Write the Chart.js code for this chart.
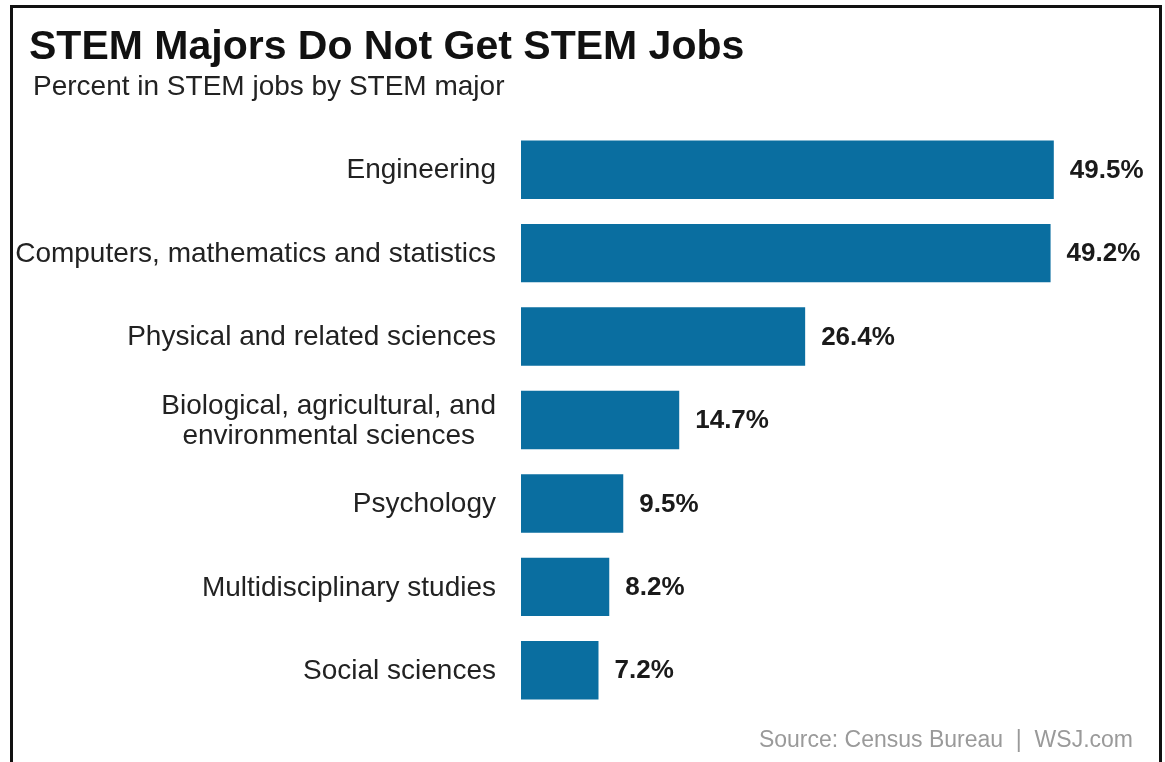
<!DOCTYPE html>
<html>
<head>
<meta charset="utf-8">
<script src="https://cdn.jsdelivr.net/npm/chart.js@4/dist/chart.umd.min.js"></script>
<style>
  html, body { margin: 0; padding: 0; background: #ffffff; }
  #wrap { width: 1165px; height: 762px; position: relative; }
</style>
</head>
<body>
<div id="wrap"><canvas id="c" width="1165" height="762"></canvas></div>
<script>
// ---- data ----
const titleText = "STEM Majors Do Not Get STEM Jobs";
const subtitleText = "Percent in STEM jobs by STEM major";
const sourceText = "Source: Census Bureau  |  WSJ.com";
const categories = [
  ["Engineering"],
  ["Computers, mathematics and statistics"],
  ["Physical and related sciences"],
  ["Biological, agricultural, and", "environmental sciences"],
  ["Psychology"],
  ["Multidisciplinary studies"],
  ["Social sciences"]
];
const values = [49.5, 49.2, 26.4, 14.7, 9.5, 8.2, 7.2];
const valueLabels = ["49.5%", "49.2%", "26.4%", "14.7%", "9.5%", "8.2%", "7.2%"];

const BAR_COLOR = "#0a6ea0";
const FONT = "'Liberation Sans', Arial, Helvetica, sans-serif";

const decorPlugin = {
  id: 'decor',
  afterDraw(chart) {
    const ctx = chart.ctx;
    const yScale = chart.scales.y;
    const meta = chart.getDatasetMeta(0);
    ctx.save();
    // frame lines
    ctx.strokeStyle = "#111";
    ctx.lineWidth = 3;
    ctx.beginPath();
    ctx.moveTo(11.5, 762); ctx.lineTo(11.5, 6.5); ctx.lineTo(1160.5, 6.5); ctx.lineTo(1160.5, 762);
    ctx.stroke();

    // title & subtitle
    ctx.fillStyle = "#111";
    ctx.textAlign = "left";
    ctx.textBaseline = "alphabetic";
    ctx.font = "bold 41px " + FONT;
    ctx.fillText(titleText, 29, 59);
    ctx.fillStyle = "#222";
    ctx.font = "28px " + FONT;
    ctx.fillText(subtitleText, 33, 95);

    // category labels (block right-aligned, lines centered within block)
    ctx.font = "28px " + FONT;
    ctx.fillStyle = "#222";
    ctx.textBaseline = "middle";
    ctx.textAlign = "center";
    const rightEdge = 496;
    const lineH = 30;
    categories.forEach((lines, i) => {
      const yc = yScale.getPixelForValue(i);
      const w = Math.max(...lines.map(l => ctx.measureText(l).width));
      const cx = rightEdge - w / 2;
      const y0 = yc - (lines.length - 1) * lineH / 2;
      lines.forEach((l, j) => ctx.fillText(l, cx, y0 + j * lineH + 1));
    });

    // value labels
    ctx.font = "bold 26px " + FONT;
    ctx.fillStyle = "#1a1a1a";
    ctx.textAlign = "left";
    meta.data.forEach((bar, i) => {
      ctx.fillText(valueLabels[i], bar.x + 16, bar.y + 1);
    });

    // source
    ctx.font = "23px " + FONT;
    ctx.fillStyle = "#9a9a9a";
    ctx.textAlign = "right";
    ctx.fillText(sourceText, 1133, 741);
    ctx.restore();
  }
};

new Chart(document.getElementById('c'), {
  type: 'bar',
  data: {
    labels: categories.map(c => c.join(' ')),
    datasets: [{
      data: values,
      backgroundColor: BAR_COLOR,
      borderWidth: 0,
      categoryPercentage: 0.7,
      barPercentage: 1.0
    }]
  },
  options: {
    indexAxis: 'y',
    responsive: false,
    animation: false,
    devicePixelRatio: 1,
    layout: { padding: { top: 128, bottom: 50, left: 0, right: 52 } },
    plugins: { legend: { display: false }, tooltip: { enabled: false }, title: { display: false } },
    scales: {
      x: { display: false, min: 0, max: 55 },
      y: {
        display: true,
        grid: { display: false },
        border: { display: false },
        ticks: { display: false },
        afterFit(scale) { scale.width = 521; }
      }
    }
  },
  plugins: [decorPlugin]
});
</script>
</body>
</html>
